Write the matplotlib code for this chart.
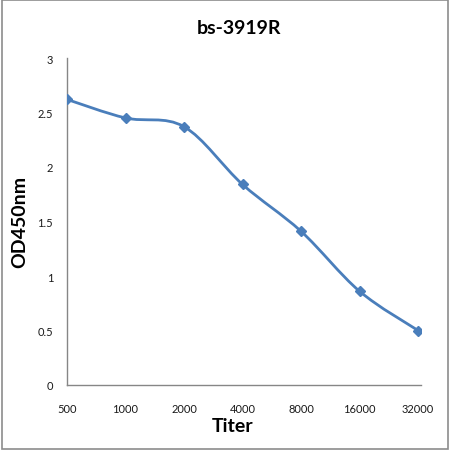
import matplotlib
matplotlib.use("Agg")
import matplotlib.pyplot as plt
from matplotlib.path import Path
from matplotlib.patches import PathPatch, Rectangle
import numpy as np

categories = ["500", "1000", "2000", "4000", "8000", "16000", "32000"]
od_values = [2.62, 2.45, 2.37, 1.84, 1.41, 0.86, 0.50]
y_ticks = [0, 0.5, 1, 1.5, 2, 2.5, 3]
y_tick_labels = ["0", "0.5", "1", "1.5", "2", "2.5", "3"]

FONT = ["Lato", "DejaVu Sans"]
LINE = "#4A7EBB"

fig = plt.figure(figsize=(4.5, 4.52), dpi=100)
ax = fig.add_axes([67/450, 66/452, 354/450, 327/452])

x = np.arange(len(categories), dtype=float)
y = np.array(od_values)

# Catmull-Rom style smoothed line (Excel-like) drawn as cubic Bezier path
verts = [(x[0], y[0])]
codes = [Path.MOVETO]
n = len(x)
for i in range(n - 1):
    p0 = np.array([x[max(i-1, 0)], y[max(i-1, 0)]])
    p1 = np.array([x[i], y[i]])
    p2 = np.array([x[i+1], y[i+1]])
    p3 = np.array([x[min(i+2, n-1)], y[min(i+2, n-1)]])
    c1 = p1 + (p2 - p0) / 6.0
    c2 = p2 - (p3 - p1) / 6.0
    verts += [tuple(c1), tuple(c2), tuple(p2)]
    codes += [Path.CURVE4] * 3
ax.add_patch(PathPatch(Path(verts, codes), fill=False, edgecolor=LINE, lw=2.0,
                       capstyle="round", joinstyle="round", zorder=3))
ax.plot(x, y, linestyle="none", marker="D", markersize=5.5, color=LINE, zorder=4)

ax.set_xlim(0, 6.05)
ax.set_ylim(0, 3)
ax.set_xticks(x)
ax.set_xticklabels(categories, fontfamily=FONT, fontsize=8, color="#1a1a1a")
ax.set_yticks(y_ticks)
ax.set_yticklabels(y_tick_labels, fontfamily=FONT, fontsize=8, color="#1a1a1a")
ax.tick_params(axis="x", length=0, pad=13)
ax.tick_params(axis="y", length=0, pad=10)
for s in ["top", "right"]:
    ax.spines[s].set_visible(False)
for s in ["left", "bottom"]:
    ax.spines[s].set_color("#868686")
    ax.spines[s].set_linewidth(1.0)

fig.text(239/450, 1 - 28/452, "bs-3919R", ha="center", va="center",
         fontfamily=FONT, fontweight="bold", fontsize=14)
fig.text(20/450, 1 - 222/452, "OD450nm", ha="center", va="center", rotation=90,
         fontfamily=FONT, fontweight="bold", fontsize=14)
fig.text(233/450, 1 - 427/452, "Titer", ha="center", va="center",
         fontfamily=FONT, fontweight="bold", fontsize=14)

fig.patches.append(Rectangle((2/450, 2/452), 446/450, 449/452, transform=fig.transFigure,
                             fill=False, edgecolor="#8c8c8c", lw=1.2))

fig.savefig("out.png", dpi=100)
